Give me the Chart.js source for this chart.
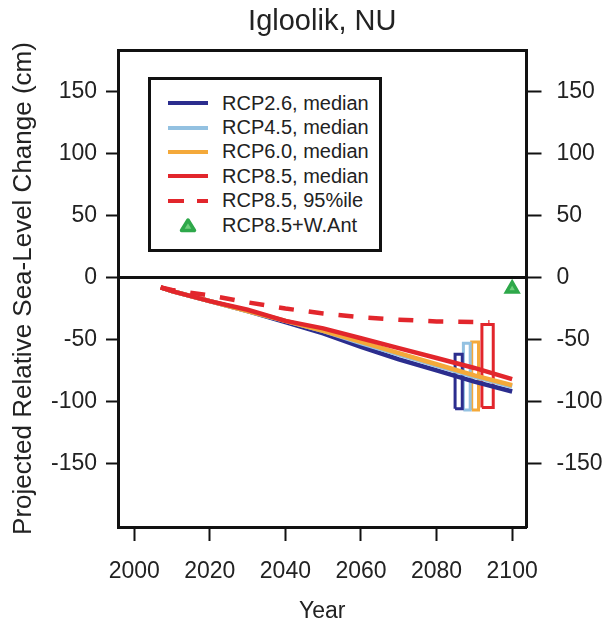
<!DOCTYPE html>
<html>
<head>
<meta charset="utf-8">
<script src="https://cdn.jsdelivr.net/npm/chart.js@4.4.0/dist/chart.umd.min.js"></script>
<style>
    html, body { margin: 0; padding: 0; background: #fff; }
    #wrap { position: relative; width: 610px; height: 626px; }
    #legend {
        position: absolute; left: 148px; top: 77px;
        width: 228px; height: 158px; padding-top: 11px;
        border: 3px solid #111; background: #fff;
        font-family: "Liberation Sans", Arial, sans-serif; font-size: 20px; color: #222;
    }
    .row { display: flex; align-items: center; height: 24.4px; }
    .sw { width: 40px; height: 4px; margin-left: 17px; margin-right: 14px; }
    .tri { width: 40px; margin-left: 17px; margin-right: 14px; display: flex; justify-content: center; }
</style>
</head>
<body>
<div id="wrap">
    <canvas id="slrChart" width="610" height="626"></canvas>
    <div id="legend"></div>
</div>
<script>
// median projections (cm)
const years = [2007, 2010, 2020, 2030, 2040, 2050, 2060, 2070, 2080, 2090, 2100];
const rcp26 = [-8, -11, -19, -27, -36, -45, -56, -66, -75, -84, -92];
const rcp45 = [-8, -11, -19, -27, -35, -43, -53, -62, -71, -80, -88];
const rcp60 = [-8, -11, -19, -27, -35, -43, -52, -61, -70, -79, -87];
const rcp85 = [-8, -11, -19, -26, -35, -41, -49, -57, -65, -73, -82];

// RCP8.5 95th percentile
const p95Years = [2007, 2010, 2020, 2030, 2040, 2050, 2060, 2070, 2080, 2090, 2094];
const rcp85p95 = [-8, -10, -14.5, -20, -25, -29, -32, -34, -35.5, -36, -36];

// 2100 ranges drawn as boxes
const rangeLeft = [2084.9, 2087.1, 2089.3, 2092.0];
const rangeRight = [2086.8, 2088.9, 2091.1, 2095.0];
const rangeLow = [-106, -107, -107, -105];
const rangeHigh = [-62, -53, -52, -38];

// RCP8.5 + West Antarctic
const wantYear = [2100];
const wantValue = [-9];

const labels = ['RCP2.6, median', 'RCP4.5, median', 'RCP6.0, median', 'RCP8.5, median', 'RCP8.5, 95%ile', 'RCP8.5+W.Ant'];
const colors = ['#2b2d8e', '#93c1e1', '#f4a93a', '#e2262c', '#e2262c', '#2ea84a'];

const xTicks = [2000, 2020, 2040, 2060, 2080, 2100];
const yTicks = [-150, -100, -50, 0, 50, 100, 150];

Chart.defaults.font.family = '"Liberation Sans", Arial, sans-serif';
Chart.defaults.color = '#222';

function toPoints(xs, ys) {
    return xs.map((x, i) => ({ x: x, y: ys[i] }));
}

function boxPoints(i) {
    return [
        { x: rangeLeft[i], y: rangeLow[i] },
        { x: rangeLeft[i], y: rangeHigh[i] },
        { x: rangeRight[i], y: rangeHigh[i] },
        { x: rangeRight[i], y: rangeLow[i] },
        { x: rangeLeft[i], y: rangeLow[i] }
    ];
}

var medians = [rcp26, rcp45, rcp60, rcp85];
var datasets = [];
medians.forEach(function(series, i) {
    datasets.push({
        label: labels[i],
        data: toPoints(years, series),
        borderColor: colors[i],
        borderWidth: 4.5,
        pointRadius: 0,
        order: 5 - i
    });
    datasets.push({
        label: labels[i] + ' range',
        data: boxPoints(i),
        borderColor: colors[i],
        borderWidth: 3,
        pointRadius: 0,
        order: 10
    });
});
datasets.push({
    label: labels[4],
    data: toPoints(p95Years, rcp85p95),
    borderColor: colors[4],
    borderWidth: 4.5,
    borderDash: [15, 15],
    pointRadius: 0,
    order: 1
});
datasets.push({
    label: labels[5],
    data: toPoints(wantYear, wantValue),
    showLine: false,
    pointStyle: 'triangle',
    pointRadius: 6.5,
    borderWidth: 3.5,
    borderColor: colors[5],
    backgroundColor: '#6fcf7c',
    order: 0
});

var yMin = -201.4, yMax = 183.7;
var xMin = 1995.7, xMax = 2103.8;
var frame = { color: '#111', width: 3 };

new Chart(document.getElementById('slrChart').getContext('2d'), {
    type: 'line',
    data: { datasets: datasets },
    options: {
        responsive: false,
        animation: false,
        layout: { padding: 0 },
        plugins: {
            legend: { display: false },
            tooltip: { enabled: false },
            title: { display: false }
        },
        scales: {
            x: {
                type: 'linear', position: 'bottom', min: xMin, max: xMax,
                afterBuildTicks: s => { s.ticks = xTicks.map(v => ({ value: v })); },
                ticks: { padding: 17, maxRotation: 0, font: { size: 23 }, callback: v => String(v) },
                grid: { drawOnChartArea: false, tickLength: 14, tickColor: '#111', tickWidth: 2 },
                border: frame,
                title: { display: true, text: 'Year', font: { size: 23 }, padding: { top: 0, bottom: 1 } },
                afterFit: s => { s.height = 99; }
            },
            xTop: {
                type: 'linear', position: 'top', min: xMin, max: xMax,
                ticks: { display: false },
                grid: { drawOnChartArea: false, drawTicks: false },
                border: frame,
                title: { display: true, text: 'Igloolik, NU', font: { size: 29 }, padding: { top: 5, bottom: 0 } },
                afterFit: s => { s.height = 50; }
            },
            y: {
                position: 'left', min: yMin, max: yMax,
                afterBuildTicks: s => { s.ticks = yTicks.map(v => ({ value: v })); },
                ticks: { padding: 9, font: { size: 23 } },
                grid: {
                    color: c => (c.tick && c.tick.value === 0) ? '#111' : 'rgba(0,0,0,0)',
                    lineWidth: 3, tickLength: 12, tickColor: '#111', tickWidth: 2
                },
                border: frame,
                title: { display: true, text: 'Projected Relative Sea-Level Change (cm)', font: { size: 26 }, padding: { top: 8, bottom: 0 } },
                afterFit: s => { s.width = 118; }
            },
            y2: {
                position: 'right', min: yMin, max: yMax,
                afterBuildTicks: s => { s.ticks = yTicks.map(v => ({ value: v })); },
                ticks: { padding: 15, font: { size: 23 } },
                grid: { drawOnChartArea: false, tickLength: 15, tickColor: '#111', tickWidth: 2 },
                border: frame,
                afterFit: s => { s.width = 83.5; }
            }
        }
    }
});

// legend box inside the plot
var legend = document.getElementById('legend');
labels.forEach(function(text, i) {
    var row = document.createElement('div');
    row.className = 'row';
    var sw;
    if (i === 5) {
        sw = document.createElement('span');
        sw.className = 'tri';
        sw.innerHTML = '<svg width="18" height="16"><polygon points="9,3 15.5,13.5 2.5,13.5" fill="#6fcf7c" stroke="' + colors[i] + '" stroke-width="3.5" stroke-linejoin="round"/></svg>';
    } else {
        sw = document.createElement('span');
        sw.className = 'sw';
        if (i === 4)
            sw.style.background = 'repeating-linear-gradient(to right, ' + colors[i] + ' 0 16px, transparent 16px 29px)';
        else
            sw.style.background = colors[i];
    }
    var label = document.createElement('span');
    label.textContent = text;
    row.appendChild(sw);
    row.appendChild(label);
    legend.appendChild(row);
});
</script>
</body>
</html>
